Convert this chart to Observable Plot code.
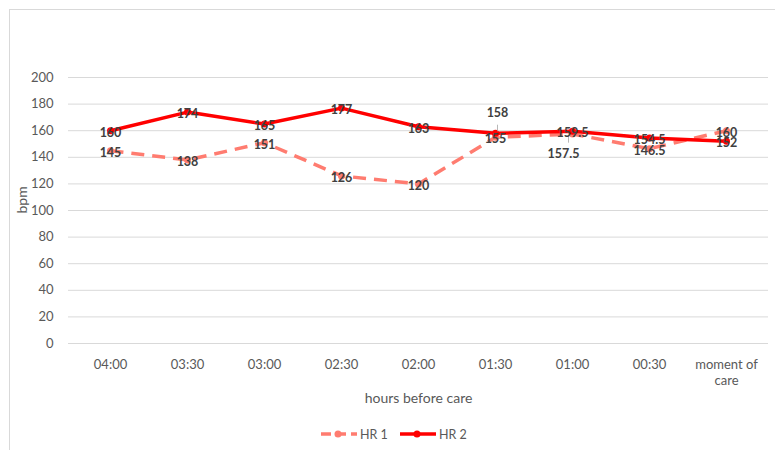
<!DOCTYPE html>
<html>
<head>
<meta charset="utf-8">
<script src="https://cdn.jsdelivr.net/npm/d3@7"></script>
<script src="https://cdn.jsdelivr.net/npm/@observablehq/plot@0.6"></script>
<style>
  html, body { margin: 0; padding: 0; background: #fff; }
  body { width: 775px; height: 450px; position: relative; overflow: hidden; font-family: Lato, "Open Sans", sans-serif; }
  #frame { position: absolute; left: 9px; top: 9px; width: 800px; height: 500px; border: 1px solid #d9d9d9; box-sizing: border-box; }
  #chart { position: absolute; left: 0; top: 0; }
  #legend { position: absolute; left: 0; top: 424px; width: 775px; height: 20px; }
  #legend svg { display: block; }
</style>
</head>
<body>
<div id="frame"></div>
<div id="chart"></div>
<div id="legend"></div>
<script>
const categories = ["04:00", "03:30", "03:00", "02:30", "02:00", "01:30", "01:00", "00:30", "moment of care"];
const hr1 = [145, 138, 151, 126, 120, 155, 157.5, 146.5, 160];
const hr2 = [160, 174, 165, 177, 163, 158, 159.5, 154.5, 152];
const seriesNames = ["HR 1", "HR 2"];
const yTicks = [0, 20, 40, 60, 80, 100, 120, 140, 160, 180, 200];

const colors = {"HR 1": "#FF7C70", "HR 2": "#FF0000"};
const rows1 = categories.map((c, i) => ({cat: c, v: hr1[i], s: seriesNames[0]}));
const rows2 = categories.map((c, i) => ({cat: c, v: hr2[i], s: seriesNames[1]}));

// labels that Excel moved away from their points (with leader lines)
const isMovedUp = d => d.s === "HR 2" && d.cat === "01:30";
const isMovedDown = d => d.s === "HR 1" && d.cat === "01:00";
const all = rows1.concat(rows2);

const labelStyle = {fontSize: 12.5, fontWeight: "bold", fill: "#404040", fontFamily: "Lato, sans-serif"};

const plot = Plot.plot({
  width: 775,
  height: 420,
  marginLeft: 68,
  marginRight: 7,
  marginTop: 77,
  marginBottom: 77,
  style: {fontFamily: "Lato, sans-serif", background: "transparent", overflow: "visible"},
  x: {type: "point", domain: categories, padding: 0.5},
  y: {domain: [0, 200]},
  marks: [
    Plot.gridY(yTicks, {stroke: "#d9d9d9", strokeOpacity: 1, strokeWidth: 1}),
    Plot.axisY(yTicks, {tickSize: 0, tickPadding: 15, fontSize: 13, fill: "#595959", label: null}),
    Plot.axisX({tickSize: 0, tickPadding: 14, fontSize: 13, lineHeight: 1.25, fill: "#595959", label: null,
      tickFormat: d => d === "moment of care" ? "moment of\ncare" : d}),
    Plot.text(["bpm"], {frameAnchor: "left", dx: -46, dy: 3, rotate: -90, fontSize: 14, fill: "#595959"}),
    Plot.text(["hours before care"], {frameAnchor: "bottom", dy: 59, fontSize: 14, fill: "#595959"}),
    Plot.line(rows1, {x: "cat", y: "v", stroke: colors["HR 1"], strokeWidth: 3.5, strokeDasharray: "13,8", strokeLinecap: "butt"}),
    Plot.dot(rows1, {x: "cat", y: "v", r: 3.5, fill: colors["HR 1"]}),
    Plot.line(rows2, {x: "cat", y: "v", stroke: colors["HR 2"], strokeWidth: 3.5}),
    Plot.dot(rows2, {x: "cat", y: "v", r: 3.5, fill: colors["HR 2"]}),
    // leader lines
    Plot.link(all.filter(isMovedUp), {x1: "cat", x2: "cat", y1: d => d.v + 1.5, y2: d => d.v + 6.5, stroke: "#a6a6a6", strokeWidth: 0.8, dx: 2}),
    Plot.link(all.filter(isMovedDown), {x1: "cat", x2: "cat", y1: d => d.v - 1.5, y2: d => d.v - 6.5, stroke: "#a6a6a6", strokeWidth: 0.8, dx: -4}),
    Plot.text(all.filter(d => !isMovedUp(d) && !isMovedDown(d)), {x: "cat", y: "v", text: d => String(d.v), dy: 2, ...labelStyle}),
    Plot.text(all.filter(isMovedUp), {x: "cat", y: "v", text: d => String(d.v), dy: -20, dx: 2, ...labelStyle}),
    Plot.text(all.filter(isMovedDown), {x: "cat", y: "v", text: d => String(d.v), dy: 20, dx: -9, ...labelStyle})
  ]
});
document.getElementById("chart").appendChild(plot);

// Legend
const lg = d3.select("#legend").append("svg").attr("width", 775).attr("height", 20);
const items = [
  {name: seriesNames[0], x: 321, dash: "10,5"},
  {name: seriesNames[1], x: 400, dash: null}
];
items.forEach(it => {
  const g = lg.append("g");
  g.append("line").attr("x1", it.x).attr("x2", it.x + 36).attr("y1", 10).attr("y2", 10)
    .attr("stroke", colors[it.name]).attr("stroke-width", 3.5)
    .attr("stroke-dasharray", it.dash);
  g.append("circle").attr("cx", it.x + 17).attr("cy", 10).attr("r", 3.5).attr("fill", colors[it.name]);
  g.append("text").attr("x", it.x + 39).attr("y", 14.5).attr("font-size", 12.5)
    .attr("font-family", "Lato, sans-serif").attr("fill", "#595959").text(it.name);
});
</script>
</body>
</html>
